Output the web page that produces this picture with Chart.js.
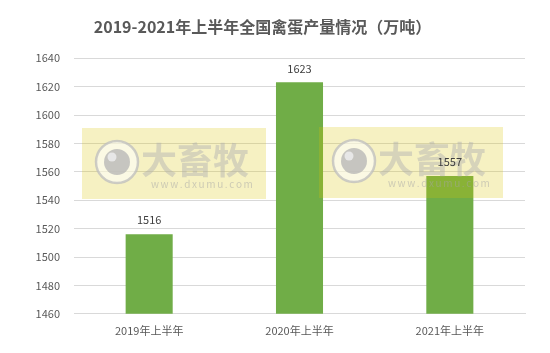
<!DOCTYPE html>
<html>
<head>
<meta charset="utf-8">
<script src="https://cdn.jsdelivr.net/npm/chart.js@4.4.1/dist/chart.umd.min.js"></script>
<style>
html,body{margin:0;padding:0;background:#fff;}
#wrap{width:550px;height:353px;position:relative;}
</style>
</head>
<body>
<div id="wrap"><canvas id="c" width="550" height="353"></canvas></div>
<script>
const categories = ["2019年上半年", "2020年上半年", "2021年上半年"];
const values = [1516, 1623, 1557];
const yTicks = [1460, 1480, 1500, 1520, 1540, 1560, 1580, 1600, 1620, 1640];
const titleText = "2019-2021年上半年全国禽蛋产量情况（万吨）";
const watermarkName = "大畜牧";
const watermarkUrl = "www.dxumu.com";

const FONT = "'Noto Sans CJK SC', 'Noto Sans', sans-serif";

const labelPlugin = {
  id: 'valueLabels',
  afterDatasetsDraw(chart) {
    const ctx = chart.ctx;
    // watermarks
    const marks = [[82, 128], [319, 127]];
    marks.forEach(([x, y]) => {
      ctx.save();
      ctx.fillStyle = 'rgba(216,196,0,0.24)';
      ctx.fillRect(x, y, 184, 71);
      // logo circle
      const cx = x + 35, cy = y + 34;
      ctx.beginPath();
      ctx.arc(cx, cy, 21, 0, Math.PI * 2);
      ctx.fillStyle = 'rgba(255,255,255,0.55)';
      ctx.fill();
      ctx.lineWidth = 2.5;
      ctx.strokeStyle = 'rgba(190,190,190,0.75)';
      ctx.stroke();
      ctx.beginPath();
      ctx.arc(cx, cy, 13, 0, Math.PI * 2);
      ctx.fillStyle = 'rgba(180,180,180,0.75)';
      ctx.fill();
      ctx.beginPath();
      ctx.arc(cx - 5, cy - 5, 4.5, 0, Math.PI * 2);
      ctx.fillStyle = 'rgba(235,235,235,0.9)';
      ctx.fill();
      ctx.fillStyle = 'rgba(175,175,175,0.45)';
      ctx.font = "bold 36px " + FONT;
      ctx.textAlign = 'left';
      ctx.textBaseline = 'middle';
      ctx.fillText(watermarkName, x + 59, y + 32);
      ctx.font = "10px " + FONT;
      ctx.fillStyle = 'rgba(165,165,165,0.5)';
      const chars = watermarkUrl.split('');
      let tx = x + 69;
      chars.forEach(ch => {
        ctx.fillText(ch, tx, y + 56);
        tx += ctx.measureText(ch).width + 1.6;
      });
      ctx.restore();
    });
    // value labels
    const meta = chart.getDatasetMeta(0);
    ctx.save();
    ctx.font = "11px " + FONT;
    ctx.fillStyle = '#404040';
    ctx.textAlign = 'center';
    ctx.textBaseline = 'middle';
    meta.data.forEach((bar, i) => {
      ctx.fillText(String(values[i]), bar.x, bar.y - 14);
    });
    ctx.restore();
  }
};

new Chart(document.getElementById('c'), {
  type: 'bar',
  data: {
    labels: categories,
    datasets: [{
      data: values,
      backgroundColor: '#70AD47',
      borderWidth: 0,
      categoryPercentage: 1,
      barPercentage: 0.313
    }]
  },
  options: {
    responsive: false,
    animation: false,
    devicePixelRatio: 1,
    layout: { padding: { left: 0, right: 25, top: 0, bottom: 14 } },
    plugins: {
      legend: { display: false },
      tooltip: { enabled: false },
      title: {
        display: true,
        text: titleText,
        color: '#595959',
        font: { family: FONT, size: 16, weight: 'bold' },
        padding: { top: 17, bottom: 22 }
      }
    },
    scales: {
      x: {
        grid: { display: false },
        border: { display: true, color: '#D9D9D9', width: 1 },
        ticks: { color: '#595959', font: { family: FONT, size: 11 }, padding: 2 }
      },
      y: {
        min: 1460,
        max: 1640,
        afterBuildTicks(axis) { axis.ticks = yTicks.map(v => ({ value: v })); },
        afterFit(axis) { axis.width = 74; },
        grid: { color: '#D9D9D9', drawTicks: false },
        border: { display: false },
        ticks: {
          color: '#595959',
          font: { family: FONT, size: 11 },
          padding: 14,
          callback: (v) => String(v)
        }
      }
    }
  },
  plugins: [labelPlugin]
});
</script>
</body>
</html>
